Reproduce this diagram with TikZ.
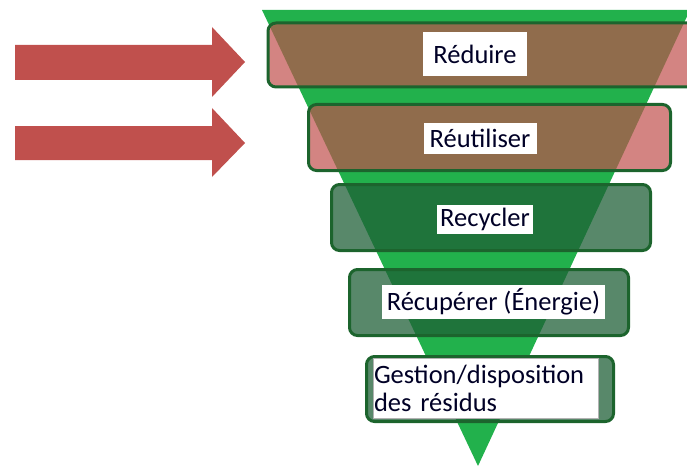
\documentclass[tikz,border=0pt]{standalone}
\usepackage{fontspec}
\setmainfont{Carlito}
\definecolor{tri}{RGB}{34,177,76}
\definecolor{arrowred}{RGB}{192,80,77}
\definecolor{boxline}{RGB}{28,100,45}
\definecolor{darkfill}{RGB}{30,95,54}
\tikzset{
  stagebox/.style={draw=boxline, line width=3pt, rounded corners=8pt, inner sep=0pt},
  redbox/.style={stagebox, fill=arrowred, fill opacity=0.7},
  greenbox/.style={stagebox, fill=darkfill, fill opacity=0.74},
  lbl/.style={fill=white, inner sep=0pt, font=\fontsize{26.5}{28}\selectfont, text=black!85!blue},
  bigarrow/.style={fill=arrowred}
}
\begin{document}
\begin{tikzpicture}[x=1pt,y=-1pt]
\useasboundingbox (0,0) rectangle (687,468);
\clip (0,0) rectangle (687,468);
% funnel
\fill[tri] (262,10) -- (690,10) -- (478,466) -- cycle;
% arrows
\fill[bigarrow] (15,45) -- (212,45) -- (212,27) -- (245,62) -- (212,97) -- (212,80) -- (15,80) -- cycle;
\fill[bigarrow] (15,126) -- (212,126) -- (212,108) -- (245,143) -- (212,177) -- (212,160) -- (15,160) -- cycle;
% stage boxes
\node[redbox, minimum width=432pt, minimum height=64pt] (b1) at (484,55) {};
\node[redbox, minimum width=362pt, minimum height=66pt] (b2) at (489.5,137.5) {};
\node[greenbox, minimum width=319pt, minimum height=66pt] (b3) at (491,217.5) {};
\node[greenbox, minimum width=279pt, minimum height=66pt] (b4) at (489,302.5) {};
\node[greenbox, minimum width=247pt, minimum height=65pt] (b5) at (490,389) {};
% labels
\node[lbl, minimum width=104pt, minimum height=44pt] (l1) at (475,54) {Réduire};
\node[lbl, minimum width=113pt, minimum height=31pt] (l2) at (480,138) {Réutiliser};
\node[lbl, minimum width=96pt, minimum height=29pt] (l3) at (485,219.5) {Recycler};
\node[lbl, minimum width=223pt, minimum height=34pt] (l4) at (493.5,302) {Récupérer (Énergie)};
\node[lbl, draw=gray!60, line width=0.6pt, minimum width=225pt, minimum height=60pt, text width=223pt, align=left, inner xsep=1pt] (l5) at (485.5,388) {Gestion/disposition\\des résidus};
\end{tikzpicture}
\end{document}
